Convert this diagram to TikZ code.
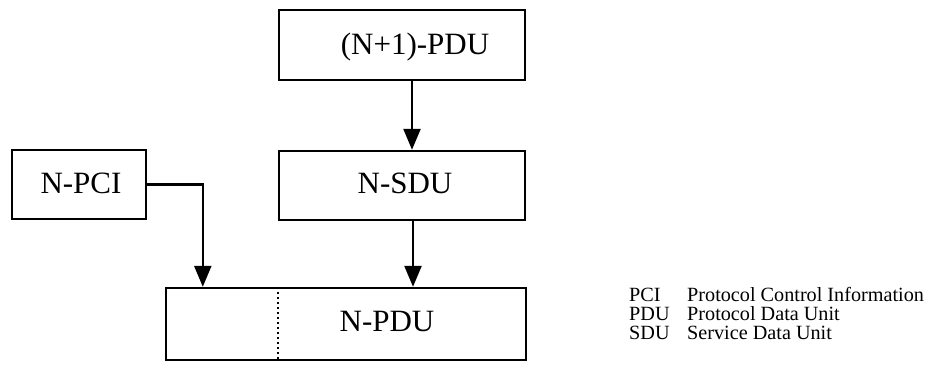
\documentclass[tikz,border=0pt]{standalone}
\usepackage{fontspec}
\setmainfont{Liberation Serif}
\usetikzlibrary{arrows.meta}
\begin{document}
\begin{tikzpicture}[x=1pt,y=-1pt,
  box/.style={draw, line width=2.4pt, rectangle, inner sep=0pt},
  lbl/.style={font=\fontsize{31}{31}\selectfont, inner sep=0pt},
  leg/.style={font=\fontsize{20.2}{20.2}\selectfont, inner sep=0pt, anchor=base west},
  arr/.style={line width=2.4pt, -{Triangle[length=21pt,width=17pt]}}]
\useasboundingbox (0,0) rectangle (934,364);
\fill[white] (0,0) rectangle (934,364);
% boxes
\node[box, minimum width=246pt, minimum height=70pt] (top) at (402,45) {};
\node[box, minimum width=246pt, minimum height=69pt] (sdu) at (402,185.5) {};
\node[box, minimum width=134pt, minimum height=69pt] (pci) at (79,184.5) {};
\node[box, minimum width=360pt, minimum height=72pt] (pdu) at (346,324) {};
% labels
\node[lbl] (ttop) at (415,47) {(N+1)-PDU};
\node[lbl] (tsdu) at (405,183) {N-SDU};
\node[lbl] (tpci) at (81,183) {N-PCI};
\node[lbl] (tpdu) at (387,321) {N-PDU};
% dotted divider
\coordinate (d1) at ([xshift=113pt]pdu.north west);
\coordinate (d2) at ([xshift=113pt]pdu.south west);
\draw[line width=1.4pt, dash pattern=on 2pt off 3pt] (d1) -- (d2);
% arrows
\coordinate (a0) at ([xshift=10pt]top.south);
\draw[arr] (a0) -- (a0 |- sdu.north);
\coordinate (a1) at ([xshift=11pt]sdu.south);
\draw[arr] (a1) -- (a1 |- pdu.north);
\coordinate (a2) at ([xshift=38pt]pdu.north west);
\draw[arr] (pci.east) -| (a2);
% legend
\node[leg] (k1) at (629,301) {PCI};
\node[leg] (v1) at (687,301) {Protocol Control Information};
\node[leg] (k2) at (629,320) {PDU};
\node[leg] (v2) at (687,320) {Protocol Data Unit};
\node[leg] (k3) at (629,339) {SDU};
\node[leg] (v3) at (687,339) {Service Data Unit};
\end{tikzpicture}
\end{document}
